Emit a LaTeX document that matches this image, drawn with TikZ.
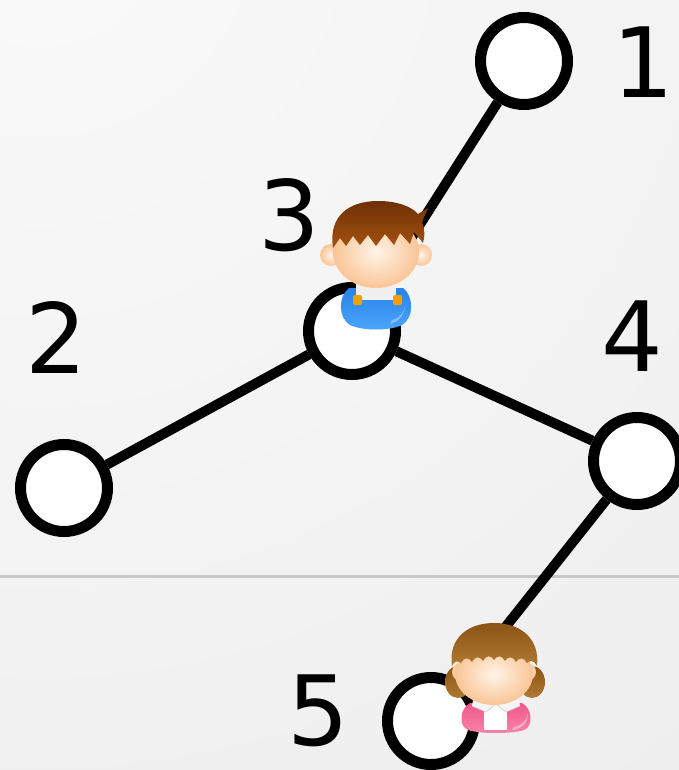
\documentclass[tikz,border=0pt]{standalone}
\usepackage{fontspec}
\setmainfont{DejaVu Sans}
\begin{document}
\definecolor{skinlight}{HTML}{FFF4E8}
\definecolor{skindark}{HTML}{FAC596}
\definecolor{boyhairtop}{HTML}{6E3006}
\definecolor{boyhairbot}{HTML}{A5520F}
\definecolor{girlhairtop}{HTML}{8A5214}
\definecolor{girlhairbot}{HTML}{B07A32}
\definecolor{overalltop}{HTML}{2A82EA}
\definecolor{overallbot}{HTML}{4AA6FA}
\definecolor{buttonc}{HTML}{F2A000}
\definecolor{pinktop}{HTML}{F0588A}
\definecolor{pinkbot}{HTML}{F884A8}
\begin{tikzpicture}[x=1pt,y=-1pt,
  vertex/.style={circle,draw=black,fill=white,line width=11pt,minimum size=87pt,inner sep=0pt},
  edge/.style={line width=10pt,black},
  numlabel/.style={font=\fontsize{97}{97}\selectfont,inner sep=0pt,anchor=center},
  skin/.style={inner color=skinlight,outer color=skindark}]
\useasboundingbox (0,0) rectangle (679,770);
% background
\begin{scope}
  \clip (0,0) rectangle (679,770);
  \shade[inner color=black!2,outer color=black!7] (40,-80) circle (1150);
\end{scope}
\coordinate (sepL) at (0,576);
\coordinate (sepR) at (679,576);
\draw[line width=3pt,black!21] (sepL) -- (sepR);
% vertices
\node[vertex] (n1) at (524,61) {};
\node[vertex] (n2) at (64,488) {};
\node[vertex] (n3) at (352,331) {};
\node[vertex] (n4) at (637,461) {};
\node[vertex] (n5) at (431,721) {};
% edges
\draw[edge] (n1) -- (n3);
\draw[edge] (n3) -- (n2);
\draw[edge] (n3) -- (n4);
\draw[edge] (n4) -- (n5);
% labels
\node[numlabel] (l1) at (643,62) {1};
\node[numlabel] (l2) at (56,338) {2};
\node[numlabel] (l3) at (289,215) {3};
\node[numlabel] (l4) at (632,336) {4};
\node[numlabel] (l5) at (318,711) {5};
% boy on vertex 3
\begin{scope}
  % overalls
  \shade[top color=overalltop,bottom color=overallbot]
    (349,288) .. controls (338,296) and (338,318) .. (350,325)
    .. controls (362,331) and (390,331) .. (402,325)
    .. controls (414,318) and (414,296) .. (403,288) -- cycle;
  \fill[white,opacity=0.35] (392,320) .. controls (400,318) and (404,312) .. (405,306)
    .. controls (404,315) and (399,322) .. (390,324) -- cycle;
  \fill[black!6] (356,284) rectangle (396,300);
  \fill[buttonc,rounded corners=2pt] (353,295) rectangle (362,305);
  \fill[buttonc,rounded corners=2pt] (393,295) rectangle (402,305);
  % ears
  \shade[skin] (331,255) circle (11);
  \shade[skin] (421,255) circle (11);
  % face
  \shade[skin] (376,252) ellipse (43 and 36);
  % hair
  \shade[top color=boyhairtop,bottom color=boyhairbot]
    (333,248) .. controls (328,215) and (350,201) .. (378,201)
    .. controls (398,201) and (412,207) .. (418,214)
    -- (428,208) -- (422,222)
    .. controls (425,230) and (425,236) .. (423,243)
    -- (414,232) -- (410,244) -- (400,233) -- (394,245) -- (385,234)
    -- (376,246) -- (368,235) -- (360,245) -- (353,236) -- (346,246)
    -- (340,238) -- cycle;
\end{scope}
% girl on vertex 5
\begin{scope}
  % dress
  \shade[top color=pinktop,bottom color=pinkbot]
    (470,703) .. controls (460,708) and (458,726) .. (468,730)
    .. controls (480,734) and (512,734) .. (524,730)
    .. controls (534,726) and (532,708) .. (522,703) -- cycle;
  \fill[white] (484,704) rectangle (507,730);
  \fill[white,opacity=0.4] (514,727) .. controls (522,725) and (527,720) .. (528,713)
    .. controls (528,722) and (523,729) .. (512,730) -- cycle;
  % collar
  \fill[black!4] (474,694) -- (518,694) -- (520,706) -- (506,712) -- (496,704)
    -- (486,712) -- (472,706) -- cycle;
  \draw[black!20,line width=0.6pt] (472,706) -- (486,712) -- (496,704) -- (506,712) -- (520,706);
  % side hair
  \shade[top color=girlhairtop,bottom color=girlhairbot] (458,682) ellipse (13 and 16);
  \shade[top color=girlhairtop,bottom color=girlhairbot] (532,682) ellipse (13 and 16);
  % ears
  \shade[skin] (461,672) circle (9);
  \shade[skin] (527,672) circle (9);
  % face
  \shade[skin] (494,674) ellipse (39 and 31);
  % hair with scalloped fringe
  \shade[top color=girlhairtop,bottom color=girlhairbot]
    (452,666) .. controls (448,640) and (466,623) .. (494,623)
    .. controls (522,623) and (540,640) .. (537,666)
    .. controls (534,660) and (530,660) .. (527,663)
    .. controls (524,657) and (519,657) .. (516,662)
    .. controls (513,656) and (508,656) .. (505,661)
    .. controls (502,655) and (497,655) .. (494,660)
    .. controls (491,655) and (486,655) .. (483,661)
    .. controls (480,656) and (475,656) .. (472,662)
    .. controls (469,657) and (464,657) .. (461,663)
    .. controls (458,660) and (454,661) .. (452,666) -- cycle;
\end{scope}
\end{tikzpicture}
\end{document}
